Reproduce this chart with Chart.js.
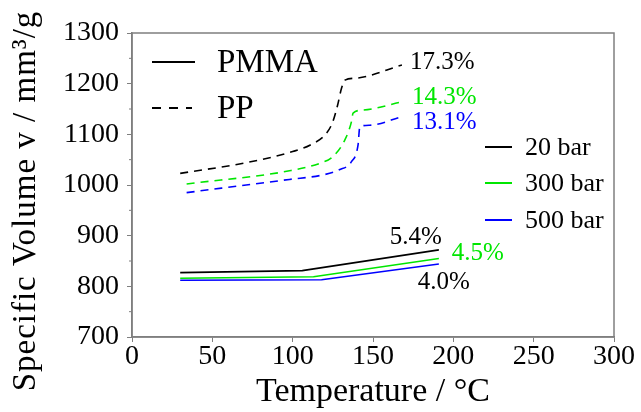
<!DOCTYPE html>
<html><head><meta charset="utf-8">
<script src="https://cdn.jsdelivr.net/npm/chart.js@4"></script>
<style>html,body{margin:0;padding:0;background:#fff}#wrap{width:641px;height:412px;position:relative}</style>
</head><body><div id="wrap"><canvas id="c" width="641" height="412"></canvas></div>
<script>
// ---- data ----
const xTicks = [0, 50, 100, 150, 200, 250, 300];
const yTicks = [700, 800, 900, 1000, 1100, 1200, 1300];
const yMinorTicks = [750, 850, 950, 1050, 1150, 1250];
const materials = ['PMMA', 'PP'];
const pressures = ['20 bar', '300 bar', '500 bar'];
const xTitle = 'Temperature / °C';
const yTitle = 'Specific Volume v / mm³/g';

const pmma20T = [30, 106, 191];
const pmma20V = [827, 831, 872];
const pmma300T = [30, 113, 191];
const pmma300V = [816, 819, 855];
const pmma500T = [30, 118, 191];
const pmma500V = [812, 813, 844];

const pp20T = [30, 71, 100, 111, 121, 125, 128, 130.4, 132.5, 140, 168];
const pp20V = [1023, 1044, 1066, 1079, 1102, 1125, 1158, 1191, 1207, 1211, 1237];
const pp300T = [34, 98, 117, 125, 132.5, 136.6, 137.6, 144, 168];
const pp300V = [1002, 1028, 1043, 1056, 1089, 1125, 1142, 1148, 1164];
const pp500T = [34, 98, 119, 129, 136.6, 140.7, 141.8, 148, 168];
const pp500V = [985, 1011, 1020, 1030, 1046, 1079, 1115, 1118, 1135];

const ppChange = ['17.3%', '14.3%', '13.1%'];
const pmmaChange = ['5.4%', '4.5%', '4.0%'];

// ---- styles ----
const FONT = "'Liberation Serif', 'Times New Roman', serif";
const GRAY = '#7f7f7f';
const colors = ['#000000', '#00e600', '#0000ff'];
const pmmaLabelColors = ['#000000', '#00e600', '#000000'];
const ppLabelOffsets = [[8, -2], [10, -4], [10, 6]];
const pmmaLabelOffsets = [[3, -12, 'right'], [13, -5, 'left'], [-21, 18, 'left']];

function pts(t, v) { return t.map((x, i) => ({ x: x, y: v[i] })); }

const pmmaSeries = [pts(pmma20T, pmma20V), pts(pmma300T, pmma300V), pts(pmma500T, pmma500V)];
const ppSeries = [pts(pp20T, pp20V), pts(pp300T, pp300V), pts(pp500T, pp500V)];

const datasets = [];
pmmaSeries.forEach((d, i) => datasets.push({
  label: materials[0] + ' ' + pressures[i], data: d, borderColor: colors[i], borderWidth: 1.6,
  pointRadius: 0, showLine: true, tension: 0, fill: false
}));
ppSeries.forEach((d, i) => datasets.push({
  label: materials[1] + ' ' + pressures[i], data: d, borderColor: colors[i], borderWidth: 1.6,
  borderDash: [8, 6], pointRadius: 0, showLine: true, cubicInterpolationMode: 'monotone', fill: false
}));

const decor = {
  id: 'decor',
  beforeDatasetsDraw(chart) {
    const { ctx, chartArea: ca, scales } = chart;
    ctx.save();
    ctx.strokeStyle = GRAY; ctx.lineWidth = 1.5;
    ctx.strokeRect(ca.left, ca.top, ca.right - ca.left, ca.bottom - ca.top);
    ctx.lineWidth = 1;
    yMinorTicks.forEach(v => {
      const y = scales.y.getPixelForValue(v);
      ctx.beginPath(); ctx.moveTo(ca.left - 3, y); ctx.lineTo(ca.left, y); ctx.stroke();
    });
    // y axis title
    ctx.translate(26, 201);
    ctx.rotate(-Math.PI / 2);
    ctx.font = '33px ' + FONT; ctx.fillStyle = '#000';
    ctx.textAlign = 'center'; ctx.textBaseline = 'middle';
    try { ctx.letterSpacing = '1px'; } catch (e) {}
    ctx.fillText(yTitle, 0, 0);
    ctx.restore();
  },
  afterDatasetsDraw(chart) {
    const { ctx, chartArea: ca, scales } = chart;
    ctx.save();
    ctx.font = '25px ' + FONT; ctx.textBaseline = 'middle';
    ppSeries.forEach((d, i) => {
      const p = d[d.length - 1];
      const x = scales.x.getPixelForValue(p.x), y = scales.y.getPixelForValue(p.y);
      ctx.fillStyle = colors[i]; ctx.textAlign = 'left';
      ctx.fillText(ppChange[i], x + ppLabelOffsets[i][0], y + ppLabelOffsets[i][1]);
    });
    pmmaSeries.forEach((d, i) => {
      const p = d[d.length - 1];
      const x = scales.x.getPixelForValue(p.x), y = scales.y.getPixelForValue(p.y);
      ctx.fillStyle = pmmaLabelColors[i]; ctx.textAlign = pmmaLabelOffsets[i][2];
      ctx.fillText(pmmaChange[i], x + pmmaLabelOffsets[i][0], y + pmmaLabelOffsets[i][1]);
    });
    ctx.textAlign = 'left';
    ctx.font = '33px ' + FONT; ctx.fillStyle = '#000'; ctx.strokeStyle = '#000'; ctx.lineWidth = 2;
    ctx.beginPath(); ctx.moveTo(ca.left + 20, ca.top + 29); ctx.lineTo(ca.left + 63, ca.top + 29); ctx.stroke();
    ctx.fillText(materials[0], ca.left + 85, ca.top + 30);
    ctx.setLineDash([9, 8]);
    ctx.beginPath(); ctx.moveTo(ca.left + 20, ca.top + 75); ctx.lineTo(ca.left + 60, ca.top + 75); ctx.stroke();
    ctx.setLineDash([]);
    ctx.fillText(materials[1], ca.left + 85, ca.top + 76);
    ctx.font = '26px ' + FONT;
    const ly = [114, 150, 187];
    pressures.forEach((p, i) => {
      ctx.strokeStyle = colors[i];
      ctx.beginPath(); ctx.moveTo(ca.left + 353, ca.top + ly[i]); ctx.lineTo(ca.left + 380, ca.top + ly[i]); ctx.stroke();
      ctx.fillStyle = '#000';
      ctx.fillText(p, ca.left + 393, ca.top + ly[i] + 1);
    });
    ctx.restore();
  }
};

new Chart(document.getElementById('c'), {
  type: 'scatter',
  data: { datasets },
  options: {
    responsive: false, animation: false,
    layout: { padding: { top: 33, right: 27, left: 0, bottom: 0 } },
    plugins: { legend: { display: false }, tooltip: { enabled: false } },
    scales: {
      x: {
        type: 'linear', min: 0, max: 300,
        afterBuildTicks: s => { s.ticks = xTicks.map(v => ({ value: v })); },
        afterFit: s => { s.height = 75; },
        ticks: { color: '#000', font: { family: FONT, size: 28 }, padding: -2, maxRotation: 0, callback: v => String(v) },
        grid: { drawOnChartArea: false, tickLength: 5, color: GRAY, tickWidth: 1 },
        border: { color: GRAY, width: 1.5 },
        title: { display: true, text: xTitle, color: '#000', font: { family: FONT, size: 34 }, padding: { top: 0, bottom: 0 } }
      },
      y: {
        type: 'linear', min: 700, max: 1300,
        afterBuildTicks: s => { s.ticks = yTicks.map(v => ({ value: v })); },
        afterFit: s => { s.width = 132; },
        ticks: { color: '#000', font: { family: FONT, size: 28 }, padding: 8, callback: v => String(v) },
        grid: { drawOnChartArea: false, tickLength: 5, color: GRAY, tickWidth: 1 },
        border: { color: GRAY, width: 1.5 },
        title: { display: false }
      }
    }
  },
  plugins: [decor]
});
</script>
</body></html>
